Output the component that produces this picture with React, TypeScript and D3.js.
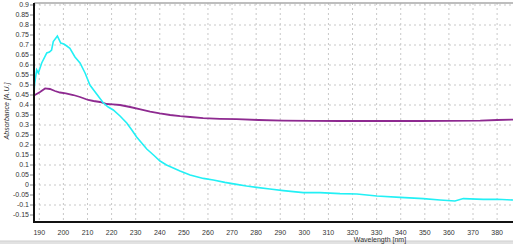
import React from "react";
import * as d3 from "d3";

const W = 513;
const H = 244;

// Cyan series: [wavelength nm, absorbance]
const cyanWl = [187.8, 188.0, 188.9, 189.6, 191.0, 193.1, 194.2, 195.1, 195.8, 197.5, 198.9, 200.2, 201.4, 202.7, 204.8, 206.9, 209.0, 211.0, 213.8, 216.6, 218.6, 220.7, 223.5, 226.3, 228.4, 230.4, 232.5, 234.6, 237.4, 240.1, 242.8, 245.6, 248.4, 252.6, 258.1, 262.2, 267.0, 271.9, 276.0, 280.2, 285.7, 291.3, 295.4, 299.6, 306.5, 314.8, 321.8, 330.1, 339.8, 349.4, 356.3, 362.5, 366.0, 374.3, 380.0, 386.6];
const cyanAbs = [0.45, 0.5, 0.575, 0.56, 0.61, 0.66, 0.665, 0.675, 0.717, 0.745, 0.71, 0.705, 0.695, 0.683, 0.64, 0.61, 0.56, 0.5, 0.455, 0.41, 0.39, 0.375, 0.345, 0.31, 0.275, 0.24, 0.21, 0.18, 0.15, 0.12, 0.1, 0.085, 0.07, 0.05, 0.033, 0.025, 0.013, 0.003, -0.005, -0.012, -0.02, -0.028, -0.033, -0.038, -0.038, -0.043, -0.045, -0.055, -0.062, -0.068, -0.075, -0.08, -0.068, -0.072, -0.071, -0.075];

// Purple series
const purpleWl = [187.8, 190.3, 192.4, 194.4, 196.5, 198.6, 201.0, 204.1, 206.9, 210.3, 212.5, 215.2, 218.0, 220.5, 223.5, 227.7, 232.0, 236.0, 240.0, 244.3, 248.5, 252.6, 258.0, 265.0, 271.9, 281.0, 291.2, 303.0, 314.8, 330.0, 348.0, 360.0, 373.0, 380.0, 386.6];
const purpleAbs = [0.447, 0.465, 0.483, 0.48, 0.47, 0.4625, 0.458, 0.45, 0.44, 0.425, 0.42, 0.415, 0.405, 0.403, 0.4, 0.39, 0.378, 0.367, 0.358, 0.35, 0.344, 0.34, 0.334, 0.331, 0.329, 0.325, 0.322, 0.321, 0.32, 0.32, 0.32, 0.321, 0.322, 0.325, 0.327];

const xTicks = d3.range(190, 381, 10);
const yTickLabels = d3.range(-0.15, 0.9001, 0.05).map((v) => Math.round(v * 100) / 100);
const yGrid = d3.range(-0.1, 0.9001, 0.1).map((v) => Math.round(v * 10) / 10);

export default function App() {
  const left = 34;
  const right = 513;
  const top = 3;
  const bottom = 222;
  const x = d3.scaleLinear().domain([187.8, 386.6]).range([left, right]);
  const y = d3.scaleLinear().domain([-0.185, 0.91]).range([bottom, top]);
  const line = d3
    .line<[number, number]>()
    .x((d) => x(d[0]))
    .y((d) => y(d[1]));
  const cyan = line(cyanWl.map((w, i) => [w, cyanAbs[i]] as [number, number])) || "";
  const purple = line(purpleWl.map((w, i) => [w, purpleAbs[i]] as [number, number])) || "";
  const fmt = (v: number) => (v === 0 ? "0" : String(v));
  const font = "Liberation Sans, Arial, sans-serif";
  return (
    <svg
      width={W}
      height={H}
      style={{ position: "absolute", left: 0, top: 0, background: "#fff" }}
      fontFamily={font}
    >
      <rect x={0} y={0} width={W} height={H} fill="#fff" />
      <clipPath id="plot">
        <rect x={left} y={top} width={right - left} height={bottom - top} />
      </clipPath>
      {/* grid */}
      {xTicks.map((t) => (
        <line key={"gx" + t} x1={x(t)} x2={x(t)} y1={top} y2={bottom} stroke="#c8c8c8" strokeDasharray="2,3" />
      ))}
      {yGrid.map((t) => (
        <line key={"gy" + t} x1={left} x2={right} y1={y(t)} y2={y(t)} stroke="#c8c8c8" strokeDasharray="2,3" />
      ))}
      {/* top border */}
      <line x1={left} x2={right} y1={top} y2={top} stroke="#a8a8a8" strokeWidth={1.5} />
      {/* curves */}
      <g clipPath="url(#plot)">
        <path d={purple} fill="none" stroke="#8e2a90" strokeWidth={1.8} />
        <path d={cyan} fill="none" stroke="#22f0f5" strokeWidth={1.6} />
      </g>
      {/* axes */}
      <line x1={left} x2={left} y1={top} y2={bottom + 1} stroke="#111" strokeWidth={2} />
      <line x1={left - 1} x2={right} y1={bottom} y2={bottom} stroke="#111" strokeWidth={2} />
      {yTickLabels.map((t) => (
        <g key={"yl" + t}>
          <line x1={left - 4} x2={left - 1} y1={y(t)} y2={y(t)} stroke="#888" />
          <text x={left - 5} y={y(t)} dy="0.35em" textAnchor="end" fontSize={7} fill="#333">
            {fmt(t)}
          </text>
        </g>
      ))}
      {xTicks.map((t) => (
        <text key={"xl" + t} x={x(t)} y={235} textAnchor="middle" fontSize={7} fill="#333">
          {t}
        </text>
      ))}
      <text
        transform={`translate(9,${111}) rotate(-90)`}
        textAnchor="middle"
        fontSize={7}
        fontStyle="italic"
        fill="#333"
      >
        Absorbance [A.U.]
      </text>
      {/* bottom bar */}
      <rect x={0} y={241} width={W} height={3} fill="#e2e2e2" />
      <line x1={0} x2={W} y1={241} y2={241} stroke="#cfcfcf" />
      <text x={380} y={242} textAnchor="middle" fontSize={7} fill="#333">
        Wavelength [nm]
      </text>
    </svg>
  );
}
